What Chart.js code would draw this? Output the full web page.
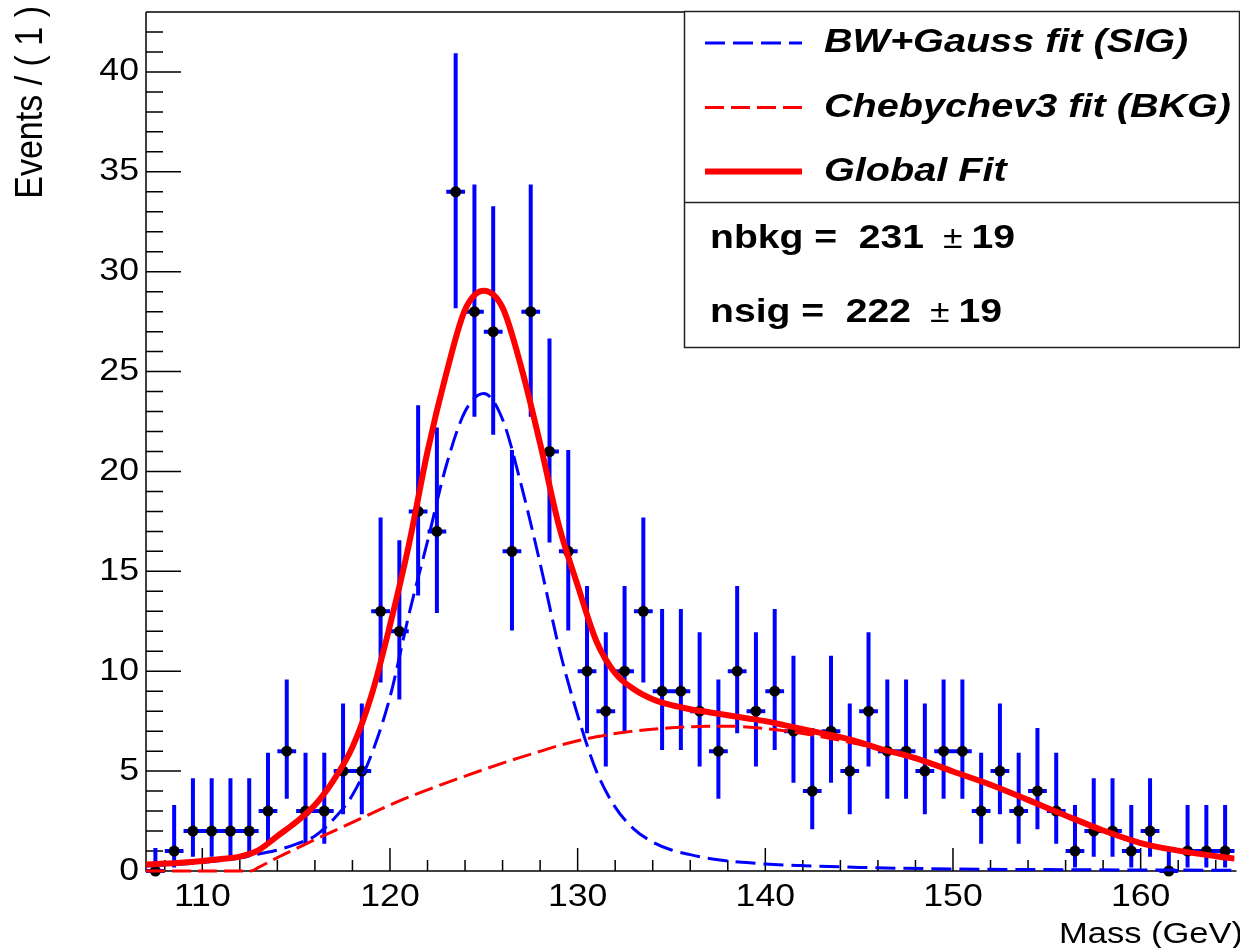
<!DOCTYPE html>
<html>
<head>
<meta charset="utf-8">
<script src="https://cdn.jsdelivr.net/npm/chart.js@4.4.1/dist/chart.umd.min.js"></script>
<style>
html, body { margin: 0; padding: 0; background: #fff; }
canvas { display: block; }
</style>
</head>
<body>
<canvas id="massPlot" width="1240" height="948"></canvas>
<script>
// histogram bins (1 GeV wide) and counts
const binCenters = [107.5, 108.5, 109.5, 110.5, 111.5, 112.5, 113.5, 114.5, 115.5, 116.5, 117.5, 118.5,
	119.5, 120.5, 121.5, 122.5, 123.5, 124.5, 125.5, 126.5, 127.5, 128.5, 129.5,
	130.5, 131.5, 132.5, 133.5, 134.5, 135.5, 136.5, 137.5, 138.5, 139.5, 140.5, 141.5, 142.5, 143.5, 144.5, 145.5,
	146.5, 147.5, 148.5, 149.5, 150.5, 151.5, 152.5, 153.5, 154.5, 155.5, 156.5, 157.5, 158.5, 159.5, 160.5,
	161.5, 162.5, 163.5, 164.5];
const binHalfWidth = 0.5;
const counts = [0, 1, 2, 2, 2, 2, 3, 6, 3, 3, 5, 5,
	13, 12, 18, 17, 34, 28, 27, 16, 28, 21, 16,
	10, 8, 10, 13, 9, 9, 8, 6, 10, 8, 9, 7, 4, 7, 5, 8,
	6, 6, 5, 6, 6, 3, 5, 3, 4, 3, 1, 2, 2, 1, 2,
	0, 1, 1, 1];

// Poisson error interval for each count that shows up
const poissonN  = [0, 1, 2, 3, 4, 5, 6, 7, 8, 9, 10, 12, 13, 16, 17, 18, 21, 27, 28, 34];
const poissonLo = [0, 0.173, 0.708, 1.367, 2.086, 2.840, 3.620, 4.419, 5.232, 6.057, 6.891, 8.585, 9.441, 12.04, 12.91, 13.79, 16.45, 21.84, 22.74, 28.17];
const poissonHi = [1.148, 3.300, 4.638, 5.918, 7.163, 8.382, 9.584, 10.77, 11.95, 13.11, 14.27, 16.56, 17.70, 21.08, 22.20, 23.32, 26.65, 33.27, 34.37, 40.94];

// fit curves
const sigX = [107, 108, 109, 110, 111, 112, 113, 114, 115, 116, 117, 118, 119, 120, 121, 122, 123, 124, 125, 126,
	127, 128, 129, 130, 131, 132, 133, 134, 135, 136, 137, 138, 139, 140, 142, 145, 150, 155, 160, 165];
const sigY = [0.25, 0.3, 0.35, 0.42, 0.52, 0.65, 0.85, 1.05, 1.35, 1.75, 2.6, 3.8, 5.8, 8.7, 12.8, 16.5, 20.3, 23.0, 23.9, 22.6,
	19.3, 15.4, 11.2, 7.8, 5.0, 3.2, 2.1, 1.45, 1.05, 0.82, 0.63, 0.5, 0.42, 0.35, 0.27, 0.18, 0.1, 0.07, 0.05, 0.04];

const bkgX = [107, 108, 109, 110, 111, 112, 112.6, 113, 114, 115, 116, 117, 118, 119, 120, 121, 122, 123, 124, 125, 126,
	127, 128, 129, 130, 131, 132, 133, 134, 135, 136, 137, 138, 139, 140, 141, 142, 143, 144, 145, 146,
	148, 150, 152, 154, 156, 158, 160, 162, 164, 165];
const bkgY = [0, 0, 0, 0, 0, 0, 0, 0.18, 0.67, 1.12, 1.57, 2.0, 2.43, 2.87, 3.3, 3.7, 4.06, 4.41, 4.75, 5.08, 5.4,
	5.7, 5.99, 6.28, 6.52, 6.72, 6.88, 7.0, 7.1, 7.17, 7.22, 7.25, 7.25, 7.21, 7.13, 7.02, 6.88, 6.72, 6.54, 6.34, 6.1,
	5.58, 4.95, 4.28, 3.52, 2.74, 1.99, 1.37, 0.99, 0.71, 0.59];

const totX = [107, 108, 109, 110, 111, 112, 113, 114, 115, 116, 117, 118, 119, 120, 121, 122, 123, 124, 125, 126,
	127, 128, 129, 130, 131, 132, 133, 134, 135, 136, 137, 138, 139, 140, 141, 142, 143, 144, 145, 146,
	148, 150, 152, 154, 156, 158, 160, 162, 164, 165];
const totY = [0.33, 0.37, 0.42, 0.5, 0.6, 0.72, 1.05, 1.75, 2.45, 3.3, 4.55, 6.2, 8.75, 12.3, 16.3, 21.0, 24.9, 28.1, 29.05, 28.2,
	25.2, 21.4, 17.3, 14.3, 11.5, 9.9, 9.1, 8.6, 8.3, 8.1, 7.95, 7.8, 7.65, 7.5, 7.3, 7.1, 6.9, 6.7, 6.45, 6.15,
	5.65, 4.98, 4.32, 3.56, 2.78, 2.03, 1.4, 1.02, 0.74, 0.62];

const xTickLabels = [110, 120, 130, 140, 150, 160];
const yTickLabels = [0, 5, 10, 15, 20, 25, 30, 35, 40];
const legendLabels = ["BW+Gauss fit (SIG)", "Chebychev3 fit (BKG)", "Global Fit"];
const paramNames = ["nbkg", "nsig"];
const paramValues = [231, 222];
const paramErrors = [19, 19];
const xTitle = "Mass (GeV)";
const yTitle = "Events / ( 1 )";

const SX = 1.15; // the reference text is drawn a little wide
const FONT = '"Liberation Sans", Arial, sans-serif';

function poissonFor(n) {
	const i = poissonN.indexOf(n);
	return [poissonLo[i], poissonHi[i]];
}

const vBars = [];
const hBars = [];
const points = [];
for (let i = 0; i < binCenters.length; i++) {
	const c = binCenters[i];
	const n = counts[i];
	const e = poissonFor(n);
	vBars.push({x: c, y: e[0]}, {x: c, y: e[1]}, {x: c, y: null});
	hBars.push({x: c - binHalfWidth, y: n}, {x: c + binHalfWidth, y: n}, {x: c, y: null});
	points.push({x: c, y: n});
}

function toXY(xs, ys) {
	return xs.map((x, i) => ({x: x, y: ys[i]}));
}

function txt(ctx, s, x, y, font, align, base, sx) {
	ctx.save();
	ctx.translate(x, y);
	ctx.scale(sx || SX, 1);
	ctx.font = font;
	ctx.textAlign = align;
	ctx.textBaseline = base;
	ctx.fillStyle = "#000";
	ctx.fillText(s, 0, 0);
	ctx.restore();
}

function txtWidth(ctx, s, font, sx) {
	ctx.save();
	ctx.font = font;
	const w = ctx.measureText(s).width * (sx || SX);
	ctx.restore();
	return w;
}

const frameAxes = {
	id: "frameAxes",
	beforeDraw(chart) {
		const ctx = chart.ctx;
		ctx.save();
		ctx.fillStyle = "#fff";
		ctx.fillRect(0, 0, chart.width, chart.height);
		ctx.restore();
	},
	beforeDatasetsDraw(chart) {
		const ctx = chart.ctx;
		const a = chart.chartArea;
		const xs = chart.scales.x;
		const ys = chart.scales.y;
		ctx.save();
		ctx.strokeStyle = "#000";
		ctx.lineWidth = 1.5;
		ctx.beginPath();
		ctx.moveTo(a.left, a.top);
		ctx.lineTo(a.right + 2, a.top);
		ctx.moveTo(a.left, a.top);
		ctx.lineTo(a.left, a.bottom);
		ctx.lineTo(a.right + 2, a.bottom);
		for (let v = 0; v <= 43; v++) {
			const py = ys.getPixelForValue(v);
			ctx.moveTo(a.left, py);
			ctx.lineTo(a.left + (v % 5 === 0 ? 35 : 17), py);
		}
		for (let v = 108; v <= 164; v += 2) {
			const px = xs.getPixelForValue(v);
			ctx.moveTo(px, a.bottom);
			ctx.lineTo(px, a.bottom - (v % 10 === 0 ? 23 : 11));
		}
		ctx.stroke();
		ctx.restore();

		const tickFont = "31px " + FONT;
		yTickLabels.forEach(v => txt(ctx, String(v), 139, ys.getPixelForValue(v), tickFont, "right", "middle"));
		xTickLabels.forEach(v => txt(ctx, String(v), xs.getPixelForValue(v), 906, tickFont, "center", "alphabetic"));

		txt(ctx, xTitle, 1243, 943, "30px " + FONT, "right", "alphabetic");

		ctx.save();
		ctx.translate(42, 6);
		ctx.rotate(-Math.PI / 2);
		ctx.scale(1, SX);
		ctx.font = "34px " + FONT;
		ctx.textAlign = "right";
		ctx.textBaseline = "alphabetic";
		ctx.fillStyle = "#000";
		ctx.fillText(yTitle, 0, 0);
		ctx.restore();
	},
	afterDatasetsDraw(chart) {
		const ctx = chart.ctx;
		const left = 684.5, top = 11.5, right = 1239.5, mid = 202.5, bottom = 347.5;
		ctx.save();
		ctx.fillStyle = "#fff";
		ctx.fillRect(left, top, right - left, bottom - top);
		ctx.strokeStyle = "#222";
		ctx.lineWidth = 1.5;
		ctx.strokeRect(left, top, right - left, bottom - top);
		ctx.beginPath();
		ctx.moveTo(left, mid);
		ctx.lineTo(right, mid);
		ctx.stroke();

		const rows = [43, 107.5, 171.5];
		const sets = [chart.data.datasets[3], chart.data.datasets[4], chart.data.datasets[5]];
		sets.forEach((ds, i) => {
			ctx.beginPath();
			ctx.strokeStyle = ds.borderColor;
			ctx.lineWidth = ds.borderWidth;
			ctx.setLineDash(ds.borderDash || []);
			ctx.moveTo(705, rows[i]);
			ctx.lineTo(802, rows[i]);
			ctx.stroke();
		});
		ctx.setLineDash([]);
		ctx.restore();

		const legFont = "italic bold 33px " + FONT;
		legendLabels.forEach((s, i) => txt(ctx, s, 824, rows[i], legFont, "left", "middle", 1.2));

		const boldFont = "bold 34px " + FONT;
		const pmFont = "31px " + FONT;
		const baselines = [248, 322];
		paramNames.forEach((name, i) => {
			let x = 710;
			const head = name + " =  " + paramValues[i];
			txt(ctx, head, x, baselines[i], boldFont, "left", "alphabetic");
			x += txtWidth(ctx, head, boldFont) + 19;
			txt(ctx, "\u00B1", x, baselines[i], pmFont, "left", "alphabetic");
			x += txtWidth(ctx, "\u00B1", pmFont) + 9;
			txt(ctx, String(paramErrors[i]), x, baselines[i], boldFont, "left", "alphabetic");
		});
	}
};

const curveClip = {left: 0, top: 0, right: 0, bottom: 4};

new Chart(document.getElementById("massPlot"), {
	type: "line",
	data: {
		datasets: [
			{
				label: "errV",
				data: vBars,
				borderColor: "#0000ff",
				borderWidth: 4,
				borderCapStyle: "butt",
				pointRadius: 0,
				spanGaps: false,
				tension: 0,
				clip: false,
				order: 7
			},
			{
				label: "errH",
				data: hBars,
				borderColor: "#0000ff",
				borderWidth: 4,
				borderCapStyle: "butt",
				pointRadius: 0,
				spanGaps: false,
				tension: 0,
				clip: false,
				order: 6
			},
			{
				label: "data",
				data: points,
				showLine: false,
				pointRadius: 5.5,
				pointBackgroundColor: "#000",
				pointBorderColor: "#000",
				pointBorderWidth: 0,
				clip: false,
				order: 5
			},
			{
				label: legendLabels[0],
				data: toXY(sigX, sigY),
				borderColor: "#0000ff",
				borderWidth: 3,
				borderDash: [20, 8],
				pointRadius: 0,
				cubicInterpolationMode: "monotone",
				clip: curveClip,
				order: 3
			},
			{
				label: legendLabels[1],
				data: toXY(bkgX, bkgY),
				borderColor: "#ff0000",
				borderWidth: 3,
				borderDash: [19, 7],
				pointRadius: 0,
				cubicInterpolationMode: "monotone",
				clip: curveClip,
				order: 2
			},
			{
				label: legendLabels[2],
				data: toXY(totX, totY),
				borderColor: "#ff0000",
				borderWidth: 6,
				pointRadius: 0,
				cubicInterpolationMode: "monotone",
				clip: curveClip,
				order: 1
			}
		]
	},
	options: {
		responsive: false,
		animation: false,
		events: [],
		layout: {
			padding: {left: 146, top: 12, right: 0, bottom: 77}
		},
		plugins: {
			legend: {display: false},
			tooltip: {enabled: false}
		},
		scales: {
			x: {
				type: "linear",
				min: 107,
				max: 165,
				display: false
			},
			y: {
				type: "linear",
				min: 0,
				max: 43,
				display: false
			}
		}
	},
	plugins: [frameAxes]
});
</script>
</body>
</html>
